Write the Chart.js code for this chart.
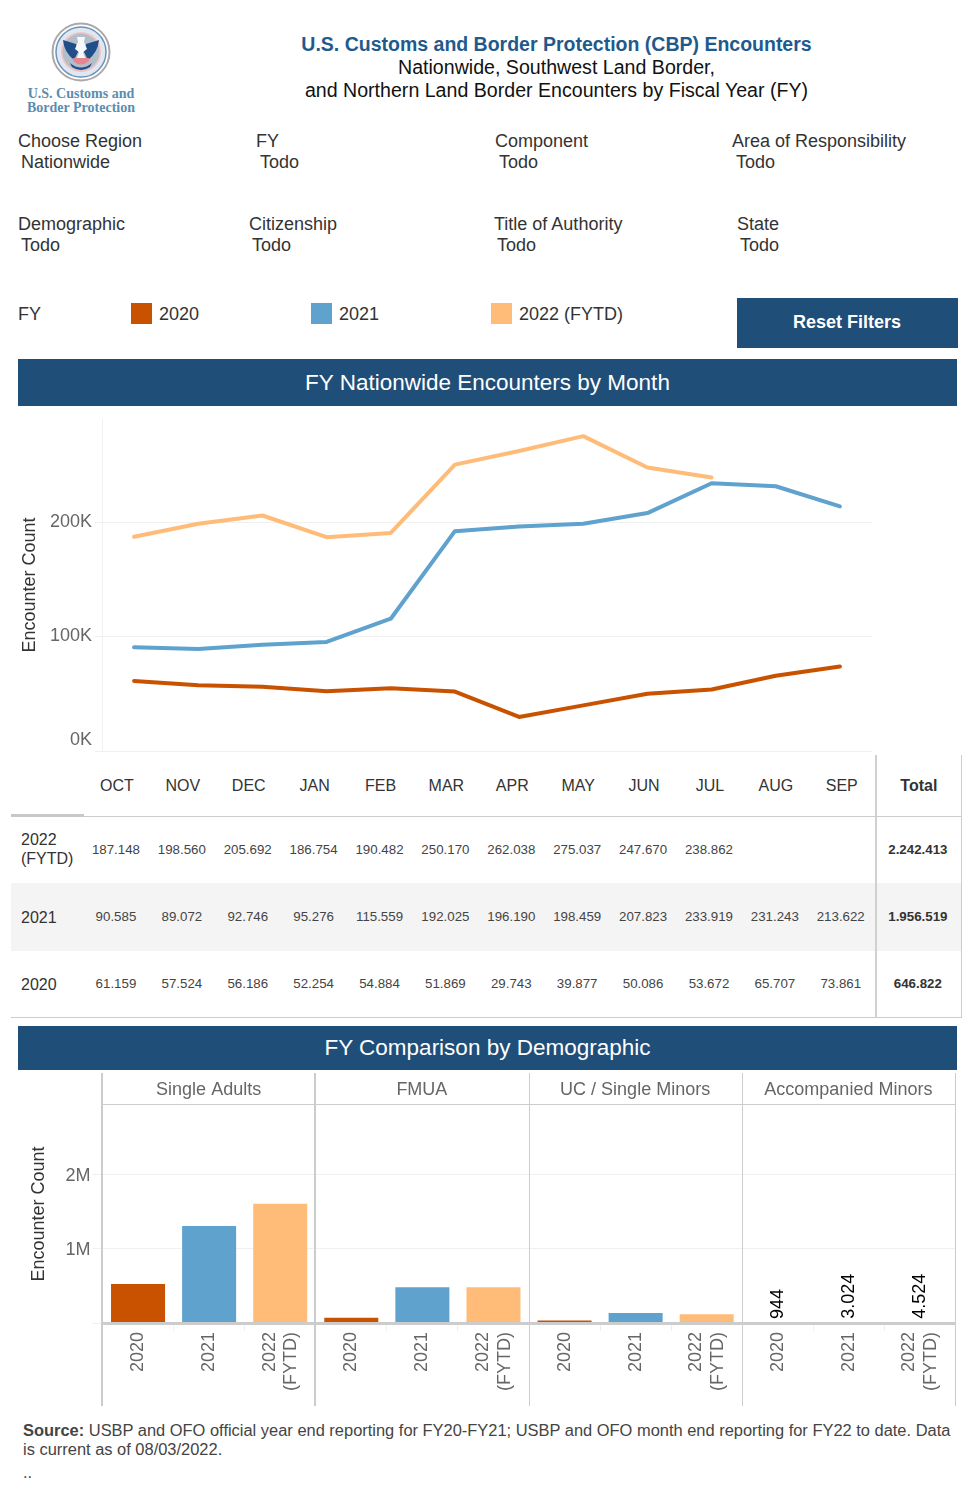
<!DOCTYPE html>
<html><head><meta charset="utf-8">
<script src="https://cdn.jsdelivr.net/npm/chart.js@4/dist/chart.umd.js"></script>
<style>
html,body{margin:0;padding:0;background:#fff}
body{position:relative;width:975px;height:1500px;overflow:hidden;font-family:"Liberation Sans",Arial,sans-serif;color:#333}
.a{position:absolute;white-space:pre;line-height:1}
.flt{font-size:18px;color:#333;line-height:21px}
.flt span{margin-left:3px}
.band{position:absolute;left:18px;width:939px;background:#1f4e79;color:#fff;font-size:22.5px;text-align:center}
.sw{position:absolute;width:21px;height:21px;top:303px}
canvas{position:absolute;left:0;display:block}
table{position:absolute;left:11px;top:755px;width:951px;table-layout:fixed;border-collapse:separate;border-spacing:0;color:#444}
th{font-weight:normal;font-size:16px;height:61px;padding:0;text-align:center;border-bottom:1px solid #ccc;color:#333;line-height:1}
th:first-child{border-bottom:3px solid #c8c8c8;height:59px}
td{font-size:13.3px;padding:0 2px 0 0;text-align:center;line-height:1}
td.y{font-size:16px;text-align:left;padding:0 0 0 10px;line-height:19px;color:#333;box-sizing:border-box}
tr:nth-child(2) td.y{padding-bottom:3px}
.tot{font-weight:bold;border-left:2px solid #d0d0d0;border-right:1px solid #ccc;color:#333}
th.tot{font-size:16px}
tr.b td{background:#f4f4f4}
tr.last td{border-bottom:1px solid #ccc}
</style></head><body>

<svg class="a" style="left:50px;top:22px;filter:blur(.3px)" width="62" height="62" viewBox="0 0 62 62">
<circle cx="31" cy="30" r="28.5" fill="#fff" stroke="#a9a9a9" stroke-width="2"/>
<circle cx="31" cy="30" r="25" fill="#dfe7f0" stroke="#6f93b8" stroke-width="1.5"/>
<circle cx="31" cy="30" r="20" fill="#f0c4c8"/>
<circle cx="31" cy="30" r="18.5" fill="#b4bec8"/>
<path d="M13 18 Q14 30 24 38 L28 30 L26 22Z M49 18 Q48 30 38 38 L34 30 L36 22Z" fill="#1f4e88"/>
<path d="M27 15 L35 15 L34 20 L37 27 L33 30 L35 36 L27 36 L29 30 L25 27 L28 20Z" fill="#f6f8fb"/>
<path d="M23 36 H39 V39 Q31 46 23 39Z" fill="#e8848f"/>
<path d="M20 41 Q31 50 42 41 L40 45 Q31 51 22 45Z" fill="#1f4e88"/>
</svg>
<div class="a" style="left:0;width:162px;top:87px;text-align:center;font:bold 14px 'Liberation Serif',serif;color:#5a8db0;line-height:14px">U.S. Customs and
Border Protection</div>

<div class="a" style="left:256.5px;width:600px;top:35px;font-size:19.5px;font-weight:bold;color:#1f5a8c;text-align:center">U.S. Customs and Border Protection (CBP) Encounters</div>
<div class="a" style="left:256.5px;width:600px;top:56px;font-size:19.6px;color:#111;text-align:center;line-height:22.5px">Nationwide, Southwest Land Border,
and Northern Land Border Encounters by Fiscal Year (FY)</div>

<div class="a flt" style="left:18px;top:131px">Choose Region
<span>Nationwide</span></div>
<div class="a flt" style="left:256px;top:131px">FY
<span style="margin-left:4px">Todo</span></div>
<div class="a flt" style="left:495px;top:131px">Component
<span style="margin-left:4px">Todo</span></div>
<div class="a flt" style="left:732px;top:131px">Area of Responsibility
<span style="margin-left:4px">Todo</span></div>
<div class="a flt" style="left:18px;top:214px">Demographic
<span>Todo</span></div>
<div class="a flt" style="left:249px;top:214px">Citizenship
<span>Todo</span></div>
<div class="a flt" style="left:494px;top:214px">Title of Authority
<span>Todo</span></div>
<div class="a flt" style="left:737px;top:214px">State
<span>Todo</span></div>

<div class="a flt" style="left:18px;top:304px">FY</div>
<div class="sw" style="left:131px;background:#c85200"></div><div class="a flt" style="left:159px;top:304px">2020</div>
<div class="sw" style="left:311px;background:#5fa2ce"></div><div class="a flt" style="left:339px;top:304px">2021</div>
<div class="sw" style="left:491px;background:#ffbc79"></div><div class="a flt" style="left:519px;top:304px">2022 (FYTD)</div>
<div class="a" style="left:737px;top:298px;width:220px;height:50px;line-height:48px;background:#1f4e79;color:#fff;font-size:18px;font-weight:bold;text-align:center;border-right:1px solid #1f4e79">Reset Filters</div>

<div class="band" style="top:359px;height:47px;line-height:47px">FY Nationwide Encounters by Month</div>
<canvas id="lineChart" style="top:411px" width="975" height="344"></canvas>
<table id="tbl"></table>
<div class="band" style="top:1026px;height:44px;line-height:44px">FY Comparison by Demographic</div>
<canvas id="barChart" style="top:1073px" width="975" height="333"></canvas>

<div class="a" style="left:23px;top:1421px;font-size:16.45px;line-height:19px;color:#444"><b>Source:</b> USBP and OFO official year end reporting for FY20-FY21; USBP and OFO month end reporting for FY22 to date. Data
is current as of 08/03/2022.</div>
<div class="a" style="left:23px;top:1463px;font-size:16.5px;line-height:19.5px;color:#444">..</div>

<script>
const months = ['OCT','NOV','DEC','JAN','FEB','MAR','APR','MAY','JUN','JUL','AUG','SEP'];
const fy2022 = [187148,198560,205692,186754,190482,250170,262038,275037,247670,238862,null,null];
const fy2021 = [90585,89072,92746,95276,115559,192025,196190,198459,207823,233919,231243,213622];
const fy2020 = [61159,57524,56186,52254,54884,51869,29743,39877,50086,53672,65707,73861];
const totals = {fy2022:2242413, fy2021:1956519, fy2020:646822};
const rowNames = {fy2022:'2022<br>(FYTD)', fy2021:'2021', fy2020:'2020'};
const lineTicks = [0,100000,200000];

const facets = ['Single Adults','FMUA','UC / Single Minors','Accompanied Minors'];
const yearLabels = ['2020','2021',['2022','(FYTD)']];
const singleAdults = [525000,1305000,1605000];
const fmua = [71000,480000,480000];
const ucMinors = [33000,135000,118000];
const accompaniedMinors = [944,3024,4524];
const barTicks = [0,1000000,2000000];

const C2020='#c85200', C2021='#5fa2ce', C2022='#ffbc79';
const yearColors=[C2020,C2021,C2022];
const dots = n => String(n).replace(/\B(?=(\d{3})+$)/g,'.');

/* table */
(function(){
  const rows=[['fy2022',fy2022,''],['fy2021',fy2021,'b'],['fy2020',fy2020,'last']];
  let h='<colgroup><col style="width:73px">'+months.map(()=>'<col style="width:65.9px">').join('')+'<col style="width:87.2px"></colgroup>';
  h+='<tr><th></th>'+months.map(m=>'<th>'+m+'</th>').join('')+'<th class="tot">Total</th></tr>';
  const hts=[66,68,67];
  rows.forEach((r,i)=>{
    h+='<tr class="'+r[2]+'" style="height:'+hts[i]+'px"><td class="y">'+rowNames[r[0]]+'</td>'+
      r[1].map(v=>'<td>'+(v==null?'':dots(v))+'</td>').join('')+
      '<td class="tot">'+dots(totals[r[0]])+'</td></tr>';
  });
  document.getElementById('tbl').innerHTML=h;
})();

const TICK='#666', GRID='#f0f0f0', FRAME='#cccccc';
const FONT='"Liberation Sans",Arial,sans-serif';
Chart.defaults.font.family=FONT;
const setTicks=vals=>s=>{s.ticks=vals.map(value=>({value}));};
const noOverhang=w=>s=>{s.width=w;s.paddingTop=0;s.paddingBottom=0;};

/* line chart */
new Chart(document.getElementById('lineChart'),{
  type:'line',
  data:{labels:months,datasets:[
    {label:'2020',data:fy2020,borderColor:C2020},
    {label:'2021',data:fy2021,borderColor:C2021},
    {label:'2022 (FYTD)',data:fy2022,borderColor:C2022}
  ].map(d=>Object.assign(d,{borderWidth:4,pointRadius:0,tension:0,fill:false,spanGaps:false,borderCapStyle:'round',borderJoinStyle:'round',order:d.label==='2021'?0:1}))},
  options:{
    responsive:false,animation:false,
    layout:{padding:{left:19,right:103,top:8,bottom:4}},
    plugins:{legend:{display:false},tooltip:{enabled:false}},
    scales:{
      x:{offset:true,grid:{display:false},border:{display:false},ticks:{display:false},afterFit:s=>{s.height=0}},
      y:{min:0,max:290000,
        afterBuildTicks:setTicks(lineTicks),
        afterFit:noOverhang(83),
        title:{display:true,text:'Encounter Count',font:{size:18},color:'#333',padding:0},
        border:{color:GRID},
        grid:{color:GRID,tickLength:7,drawTicks:true,tickColor:GRID},
        ticks:{autoSkip:false,color:TICK,font:{size:18},padding:3,
          callback:v=>v===0?['0K','']:(v/1000)+'K'}}
    }
  }
});

/* faceted bars: one category per facet/year pair */
const barValues=[...singleAdults,...fmua,...ucMinors,...accompaniedMinors];
const barLabels=facets.flatMap(()=>yearLabels);
const facetFrame={
  id:'facetFrame',
  beforeDraw(c){
    /* centre two-line rotated tick labels on their category */
    c.scales.x.getLabelItems().forEach(it=>{
      if(Array.isArray(it.label)&&!it._centred){it.options.translation[0]-=10.5;it._centred=true;}
    });
  },
  afterDraw(c){
    const x=c.scales.x, a=c.chartArea, g=c.ctx, n=yearLabels.length;
    const step=(x.getPixelForValue(1)-x.getPixelForValue(0));
    const edge=i=>x.getPixelForValue(i)-step/2;
    g.save();
    g.strokeStyle=FRAME;
    for(let f=0;f<=facets.length;f++){
      const X=Math.floor(edge(f*n));
      g.lineWidth=f<2?2:1;
      g.beginPath();g.moveTo(X+(f<2?0:.5),0);g.lineTo(X+(f<2?0:.5),c.height);g.stroke();
    }
    g.lineWidth=1;
    g.beginPath();g.moveTo(a.left,a.top-.5);g.lineTo(a.right,a.top-.5);g.stroke();
    g.fillStyle=TICK;g.font='18px '+FONT;g.textAlign='center';g.textBaseline='middle';
    facets.forEach((t,f)=>g.fillText(t,(edge(f*n)+edge((f+1)*n))/2-.5,a.top/2+1));
    /* value labels on the last facet */
    const meta=c.getDatasetMeta(0);
    g.fillStyle='#000';g.textAlign='left';
    accompaniedMinors.forEach((v,i)=>{
      const el=meta.data[(facets.length-1)*n+i];
      g.save();g.translate(el.x+.5,el.y-4);g.rotate(-Math.PI/2);g.fillText(dots(v),0,0);g.restore();
    });
    g.restore();
  }
};
new Chart(document.getElementById('barChart'),{
  type:'bar',
  plugins:[facetFrame],
  data:{labels:barLabels,datasets:[{data:barValues,backgroundColor:barValues.map((v,i)=>yearColors[i%3]),categoryPercentage:1,barPercentage:.76}]},
  options:{
    responsive:false,animation:false,
    layout:{padding:{left:28.5,right:19.5,top:32,bottom:0}},
    plugins:{legend:{display:false},tooltip:{enabled:false}},
    scales:{
      x:{offset:true,
        border:{color:FRAME,width:3,z:1},
        grid:{drawOnChartArea:false,drawTicks:true,tickLength:8,tickColor:'#eeeeee'},
        afterFit:s=>{s.height=83;s.paddingLeft=0;s.paddingRight=0;},
        ticks:{autoSkip:false,minRotation:90,maxRotation:90,color:TICK,font:{size:18},padding:1}},
      y:{min:0,max:2932000,
        afterBuildTicks:setTicks(barTicks),
        afterFit:noOverhang(74),
        title:{display:true,text:'Encounter Count',font:{size:18},color:'#333',padding:0},
        border:{display:false},
        grid:{color:GRID,tickLength:10,tickColor:GRID},
        ticks:{autoSkip:false,color:TICK,font:{size:18},padding:2,labelOffset:1.5,
          callback:v=>v===0?'':(v/1000000)+'M'}}
    }
  }
});
</script>
</body></html>
